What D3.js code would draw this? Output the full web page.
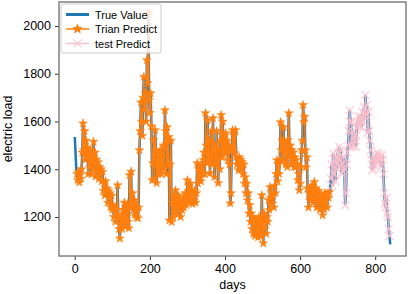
<!DOCTYPE html>
<html>
<head>
<meta charset="utf-8">
<script src="https://cdn.jsdelivr.net/npm/d3@7"></script>
<style>
  body { margin: 0; background: #fff; }
  svg { display: block; font-family: "Liberation Sans", Arial, sans-serif; }
</style>
</head>
<body>
<svg width="408" height="294"></svg>
<script>
//chart size
const width = 408;
const height = 294;
const margin = { top: 2, right: 2, bottom: 38, left: 59 };
const innerW = width - margin.left - margin.right;
const innerH = height - margin.top - margin.bottom;

//one reading every 2 days
const step = 2;
const load = [
  1535, 1470, 1400, 1380, 1355, 1390, 1345, 1375, 1360, 1400,
  1470, 1592, 1480, 1560, 1440, 1520, 1450, 1490, 1380, 1460,
  1410, 1480, 1380, 1450, 1400, 1515, 1420, 1470, 1370, 1440,
  1390, 1430, 1360, 1410, 1380, 1400, 1350, 1390, 1310, 1340,
  1290, 1350, 1300, 1320, 1260, 1310, 1280, 1300, 1240, 1290,
  1230, 1250, 1200, 1240, 1180, 1230, 1210, 1333, 1200, 1150,
  1110, 1170, 1200, 1150, 1230, 1185, 1260, 1160, 1240, 1200,
  1255, 1180, 1153, 1375, 1240, 1390, 1242, 1300, 1230, 1270,
  1210, 1260, 1200, 1230, 1195, 1240, 1480, 1560, 1680, 1600,
  1540, 1700, 1787, 1650, 1720, 1600, 1857, 1760, 2052, 1690,
  1636, 1718, 1580, 1354, 1425, 1522, 1360, 1564, 1480, 1342,
  1437, 1380, 1460, 1400, 1480, 1380, 1450, 1420, 1500, 1400,
  1647, 1560, 1380, 1576, 1420, 1535, 1186, 1420, 1520, 1179,
  1260, 1200, 1290, 1220, 1312, 1240, 1270, 1210, 1290, 1230,
  1260, 1200, 1250, 1228, 1280, 1240, 1260, 1300, 1250, 1283,
  1354, 1290, 1330, 1270, 1340, 1260, 1312, 1255, 1300, 1270,
  1310, 1260, 1300, 1425, 1340, 1400, 1360, 1417, 1350, 1400,
  1380, 1440, 1470, 1380, 1635, 1500, 1425, 1605, 1440, 1520,
  1383, 1450, 1560, 1420, 1614, 1480, 1367, 1500, 1420, 1560,
  1440, 1342, 1480, 1400, 1520, 1627, 1450, 1600, 1480, 1540,
  1467, 1551, 1480, 1520, 1440, 1500, 1420, 1257, 1300, 1480,
  1564, 1480, 1540, 1467, 1564, 1451, 1420, 1440, 1396, 1450,
  1410, 1440, 1400, 1430, 1380, 1420, 1340, 1367, 1300, 1340,
  1270, 1300, 1215, 1250, 1180, 1215, 1150, 1200, 1130, 1180,
  1120, 1190, 1140, 1170, 1115, 1200, 1130, 1180, 1120, 1291,
  1160, 1090, 1215, 1150, 1190, 1130, 1200, 1180, 1270, 1230,
  1325, 1280, 1300, 1257, 1290, 1240, 1330, 1300, 1380, 1438,
  1350, 1420, 1380, 1440, 1597, 1480, 1520, 1438, 1576, 1460,
  1510, 1420, 1480, 1409, 1522, 1635, 1450, 1500, 1420, 1480,
  1430, 1470, 1410, 1450, 1408, 1440, 1420, 1354, 1380, 1312,
  1340, 1410, 1480, 1520, 1669, 1597, 1620, 1480, 1408, 1450,
  1320, 1240, 1300, 1270, 1325, 1280, 1330, 1260, 1310, 1347,
  1270, 1320, 1240, 1300, 1260, 1310, 1230, 1290, 1250, 1280,
  1207, 1270, 1230, 1300, 1250, 1290, 1240, 1300, 1280, 1305,
  1312, 1360, 1420, 1330, 1467, 1380, 1440, 1350, 1450, 1400,
  1470, 1420, 1494, 1440, 1480, 1383, 1425, 1390, 1450, 1400,
  1249, 1300, 1420, 1470, 1500, 1560, 1648, 1600, 1593, 1494,
  1560, 1500, 1540, 1520, 1494, 1540, 1600, 1576, 1620, 1580,
  1600, 1620, 1576, 1640, 1600, 1660, 1620, 1711, 1630, 1669,
  1553, 1640, 1560, 1520, 1480, 1440, 1396, 1420, 1400, 1440,
  1425, 1460, 1440, 1471, 1430, 1460, 1440, 1450, 1410, 1460,
  1440, 1380, 1300, 1257, 1240, 1280, 1215, 1200, 1150, 1120,
  1085
];

//which days the two predictions cover
const trainDays = [6, 678];
const testDays = [682, 838];

const xTicks = [0, 200, 400, 600, 800];
const yTicks = [1200, 1400, 1600, 1800, 2000];

const legendLabels = ["True Value", "Trian Predict", "test Predict"];
const colors = ["#1f77b4", "#ff7f0e", "pink"];

const data = load.map((v, i) => ({ day: i * step, value: v }));
const trainData = data.filter(d => d.day >= trainDays[0] && d.day <= trainDays[1]);
const testData = data.filter(d => d.day >= testDays[0] && d.day <= testDays[1]);

const svg = d3.select("svg");
const g = svg.append("g")
    .attr("transform", `translate(${margin.left},${margin.top})`);

//matplotlib style 5% padding
const xExt = d3.extent(data, d => d.day);
const yExt = d3.extent(data, d => d.value);
const xPad = (xExt[1] - xExt[0]) * 0.05;
const yPad = (yExt[1] - yExt[0]) * 0.05;

const x = d3.scaleLinear()
    .domain([xExt[0] - xPad, xExt[1] + xPad])
    .range([0, innerW]);
const y = d3.scaleLinear()
    .domain([yExt[0] - yPad, yExt[1] + yPad])
    .range([innerH, 0]);

const line = d3.line()
    .x(d => x(d.day))
    .y(d => y(d.value));

//true value
g.append("path")
    .datum(data)
    .attr("fill", "none")
    .attr("stroke", colors[0])
    .attr("stroke-width", 2.5)
    .attr("d", line);

//train predict with stars
g.append("path")
    .datum(trainData)
    .attr("fill", "none")
    .attr("stroke", colors[1])
    .attr("stroke-width", 1.3)
    .attr("d", line);
const star = d3.symbol().type(d3.symbolStar).size(24);
g.selectAll(".star")
    .data(trainData)
    .enter()
    .append("path")
    .attr("class", "star")
    .attr("transform", d => `translate(${x(d.day)},${y(d.value)})`)
    .attr("d", star)
    .attr("fill", colors[1])
    .attr("stroke", colors[1])
    .attr("stroke-width", 0.5);

//test predict with crosses
g.append("path")
    .datum(testData)
    .attr("fill", "none")
    .attr("stroke", colors[2])
    .attr("stroke-width", 1.4)
    .attr("opacity", 0.85)
    .attr("d", line);
const cross = d3.symbol().type(d3.symbolX).size(42);
g.selectAll(".cross")
    .data(testData)
    .enter()
    .append("path")
    .attr("class", "cross")
    .attr("transform", d => `translate(${x(d.day)},${y(d.value)})`)
    .attr("d", cross)
    .attr("fill", "none")
    .attr("stroke", colors[2])
    .attr("stroke-width", 1.2)
    .attr("opacity", 0.85);

//axes
const xAxis = g.append("g")
    .attr("transform", `translate(0,${innerH})`)
    .call(d3.axisBottom(x).tickValues(xTicks).tickFormat(d3.format("d")).tickSize(4).tickPadding(4));
const yAxis = g.append("g")
    .call(d3.axisLeft(y).tickValues(yTicks).tickFormat(d3.format("d")).tickSize(4).tickPadding(4));
[xAxis, yAxis].forEach(a => {
    a.select(".domain").remove();
    a.selectAll("line").attr("stroke", "#333");
    a.selectAll("text")
        .attr("fill", "#000")
        .style("font-size", "12.5px")
        .style("font-family", "'Liberation Sans', Arial, sans-serif");
});

//frame
g.append("rect")
    .attr("width", innerW)
    .attr("height", innerH)
    .attr("fill", "none")
    .attr("stroke", "#808080")
    .attr("stroke-width", 1.5);

//labels
g.append("text")
    .attr("x", innerW / 2)
    .attr("y", innerH + 33)
    .attr("text-anchor", "middle")
    .attr("font-size", "12.5px")
    .text("days");
g.append("text")
    .attr("transform", "rotate(-90)")
    .attr("x", -innerH / 2)
    .attr("y", -47)
    .attr("text-anchor", "middle")
    .attr("font-size", "12.5px")
    .text("electric load");

//legend
const legend = g.append("g").attr("transform", "translate(2,2)");
legend.append("rect")
    .attr("width", 100)
    .attr("height", 49)
    .attr("rx", 2)
    .attr("fill", "#fff")
    .attr("fill-opacity", 0.8)
    .attr("stroke", "#ccc");
legendLabels.forEach((label, i) => {
    const ly = 10.5 + i * 14.5;
    legend.append("line")
        .attr("x1", 5).attr("x2", 28)
        .attr("y1", ly).attr("y2", ly)
        .attr("stroke", colors[i])
        .attr("stroke-width", i === 0 ? 3 : 1.5);
    if (i === 1) {
        legend.append("path")
            .attr("transform", `translate(16.5,${ly})`)
            .attr("d", star)
            .attr("fill", colors[1])
            .attr("stroke", colors[1]);
    }
    if (i === 2) {
        legend.append("path")
            .attr("transform", `translate(16.5,${ly})`)
            .attr("d", cross)
            .attr("fill", "none")
            .attr("stroke", colors[2]);
    }
    legend.append("text")
        .attr("x", 34)
        .attr("y", ly + 4)
        .attr("font-size", "11px")
        .text(label);
});
</script>
</body>
</html>
